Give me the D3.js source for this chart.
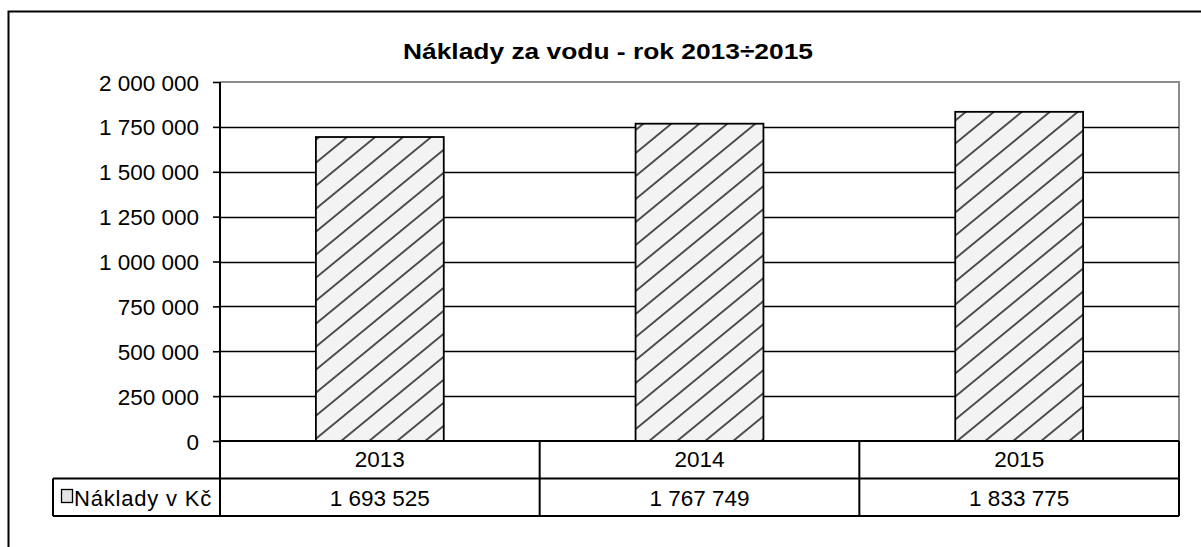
<!DOCTYPE html>
<html>
<head>
<meta charset="utf-8">
<script src="https://cdn.jsdelivr.net/npm/d3@7"></script>
<style>
  html, body { margin: 0; padding: 0; background: #fff; }
  svg { display: block; }
  text { font-family: "Liberation Sans", Arial, sans-serif; fill: #000; }
</style>
</head>
<body>
<svg id="chart" width="1201" height="547"></svg>
<script>
const title = "Náklady za vodu - rok 2013÷2015";
const categories = ["2013", "2014", "2015"];
const seriesName = "Náklady v Kč";
const values = [1693525, 1767749, 1833775];
const yTicks = [0, 250000, 500000, 750000, 1000000, 1250000, 1500000, 1750000, 2000000];

const loc = d3.formatLocale({decimal: ",", thousands: " ", grouping: [3], currency: ["", " Kč"]});
const fmt = loc.format(",d");

const svg = d3.select("#chart");
const plot = {left: 220, right: 1179, top: 82, bottom: 441};
const rowH = 37.5;

// outer chart border (extends beyond window)
svg.append("rect").attr("x", 8.5).attr("y", 11.5).attr("width", 1200).attr("height", 600)
  .attr("fill", "none").attr("stroke", "#000").attr("stroke-width", 2);

// title
svg.append("text").attr("x", 608).attr("y", 59).attr("text-anchor", "middle")
  .attr("font-size", 22).attr("font-weight", "bold")
  .attr("textLength", 410).attr("lengthAdjust", "spacingAndGlyphs").text(title);

const x = d3.scaleBand().domain(categories).range([plot.left, plot.right]).padding(0);
const y = d3.scaleLinear().domain([0, 2000000]).range([plot.bottom, plot.top]);

// hatch pattern
const defs = svg.append("defs");
const pw = 28, ph = 23;
const pat = defs.append("pattern").attr("id", "hatch").attr("patternUnits", "userSpaceOnUse")
  .attr("width", pw).attr("height", ph).attr("x", 318).attr("y", 0);
pat.append("rect").attr("width", pw).attr("height", ph).attr("fill", "#f3f3f3");
const k = ph / pw;
[-pw, 0, pw].forEach(off => {
  pat.append("line")
    .attr("x1", off - 3).attr("y1", ph + 3 * k)
    .attr("x2", off + pw + 3).attr("y2", -3 * k)
    .attr("stroke", "#4a4a4a").attr("stroke-width", 1.9);
});

// plot area border (top & right gray)
svg.append("path")
  .attr("d", `M${plot.left},${plot.top}H${plot.right}V${plot.bottom}`)
  .attr("fill", "none").attr("stroke", "#8c8c8c").attr("stroke-width", 2);

// gridlines
svg.append("g").selectAll("line").data(yTicks.filter(t => t > 0 && t < 2000000)).join("line")
  .attr("x1", plot.left).attr("x2", plot.right)
  .attr("y1", d => Math.round(y(d)) + 0.5).attr("y2", d => Math.round(y(d)) + 0.5)
  .attr("stroke", "#000").attr("stroke-width", 1.6);

// bars
const barW = x.bandwidth() * 0.4;
svg.append("g").selectAll("rect").data(values).join("rect")
  .attr("x", (d, i) => x(categories[i]) + (x.bandwidth() - barW) / 2)
  .attr("y", d => y(d))
  .attr("width", barW)
  .attr("height", d => y(0) - y(d))
  .attr("fill", "url(#hatch)")
  .attr("stroke", "#000").attr("stroke-width", 1.8);

// y axis
const yAxis = d3.axisLeft(y).tickValues(yTicks).tickFormat(fmt).tickSize(7).tickPadding(14);
const ya = svg.append("g").attr("transform", `translate(${plot.left},0)`).call(yAxis);
ya.select(".domain").remove();
ya.selectAll(".tick line").attr("stroke", "#000").attr("stroke-width", 1.6);
ya.selectAll(".tick text").attr("font-size", 22.5).attr("font-family", "Liberation Sans, Arial, sans-serif")
  .attr("fill", "#000").attr("dy", "0.36em");

// y axis line (continues through table header)
svg.append("line").attr("x1", plot.left).attr("x2", plot.left)
  .attr("y1", plot.top).attr("y2", plot.bottom + 2 * rowH)
  .attr("stroke", "#000").attr("stroke-width", 2);

// data table
const t0 = plot.bottom, t1 = plot.bottom + rowH, t2 = plot.bottom + 2 * rowH;
const tbl = svg.append("g").attr("stroke", "#000").attr("stroke-width", 2).attr("fill", "none");
tbl.append("line").attr("x1", plot.left).attr("x2", plot.right).attr("y1", t0).attr("y2", t0);
tbl.append("line").attr("x1", 53).attr("x2", plot.right).attr("y1", t1).attr("y2", t1);
tbl.append("line").attr("x1", 53).attr("x2", plot.right).attr("y1", t2).attr("y2", t2);
tbl.append("line").attr("x1", 53).attr("x2", 53).attr("y1", t1).attr("y2", t2);
const bounds = categories.map(c => x(c) + x.bandwidth());
tbl.selectAll("line.col").data(bounds).join("line").attr("class", "col")
  .attr("x1", d => d).attr("x2", d => d).attr("y1", t0).attr("y2", t2);

svg.append("g").selectAll("text").data(categories).join("text")
  .attr("x", d => x(d) + x.bandwidth() / 2).attr("y", t0 + 26)
  .attr("text-anchor", "middle").attr("font-size", 22.5).text(d => d);
svg.append("g").selectAll("text").data(values).join("text")
  .attr("x", (d, i) => x(categories[i]) + x.bandwidth() / 2).attr("y", t1 + 27)
  .attr("text-anchor", "middle").attr("font-size", 22.5).text(d => fmt(d));

// legend key & name
svg.append("rect").attr("x", 61.5).attr("y", 489.5).attr("width", 11).attr("height", 13)
  .attr("fill", "#e4e4e4").attr("stroke", "#000").attr("stroke-width", 1.3);
svg.append("text").attr("x", 74).attr("y", t1 + 27).attr("font-size", 22)
  .attr("letter-spacing", 0.8).text(seriesName);
</script>
</body>
</html>
